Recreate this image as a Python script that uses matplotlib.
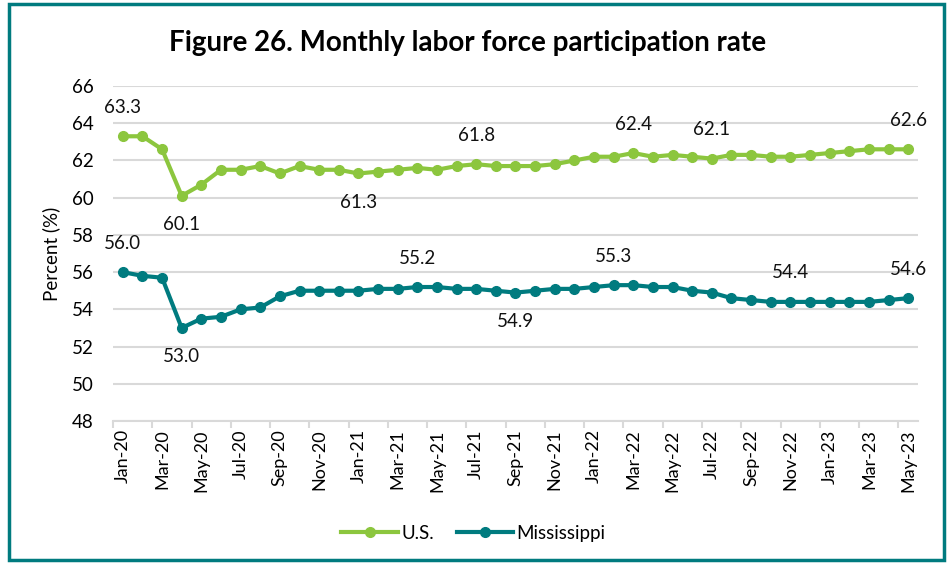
import matplotlib.pyplot as plt
from matplotlib.patches import Rectangle

months = ["Jan-20", "Feb-20", "Mar-20", "Apr-20", "May-20", "Jun-20", "Jul-20",
          "Aug-20", "Sep-20", "Oct-20", "Nov-20", "Dec-20",
          "Jan-21", "Feb-21", "Mar-21", "Apr-21", "May-21", "Jun-21", "Jul-21",
          "Aug-21", "Sep-21", "Oct-21", "Nov-21", "Dec-21",
          "Jan-22", "Feb-22", "Mar-22", "Apr-22", "May-22", "Jun-22", "Jul-22",
          "Aug-22", "Sep-22", "Oct-22", "Nov-22", "Dec-22",
          "Jan-23", "Feb-23", "Mar-23", "Apr-23", "May-23"]

us = [63.3, 63.3, 62.6, 60.1, 60.7, 61.5, 61.5, 61.7, 61.3, 61.7, 61.5, 61.5,
      61.3, 61.4, 61.5, 61.6, 61.5, 61.7, 61.8, 61.7, 61.7, 61.7, 61.8, 62.0,
      62.2, 62.2, 62.4, 62.2, 62.3, 62.2, 62.1, 62.3, 62.3, 62.2, 62.2, 62.3,
      62.4, 62.5, 62.6, 62.6, 62.6]

ms = [56.0, 55.8, 55.7, 53.0, 53.5, 53.6, 54.0, 54.1, 54.7, 55.0, 55.0, 55.0,
      55.0, 55.1, 55.1, 55.2, 55.2, 55.1, 55.1, 55.0, 54.9, 55.0, 55.1, 55.1,
      55.2, 55.3, 55.3, 55.2, 55.2, 55.0, 54.9, 54.6, 54.5, 54.4, 54.4, 54.4,
      54.4, 54.4, 54.4, 54.5, 54.6]

# which points get a value label, and whether it sits above (+1) or below (-1)
us_labels = {0: 1, 3: -1, 12: -1, 18: 1, 26: 1, 30: 1, 40: 1}
ms_labels = {0: 1, 3: -1, 15: 1, 20: -1, 25: 1, 34: 1, 40: 1}

GREEN = "#8CC63E"
TEAL = "#007B7F"
GRID = "#D9D9D9"

plt.rcParams["font.family"] = ["Lato", "DejaVu Sans"]

fig = plt.figure(figsize=(9.47, 5.63), dpi=100)
ax = fig.add_axes([0.1193, 0.2522, 0.8501, 0.595])

x = list(range(len(months)))
ax.plot(x, us, color=GREEN, lw=3, marker="o", ms=7, label="U.S.")
ax.plot(x, ms, color=TEAL, lw=3, marker="o", ms=7, label="Mississippi")

for series, labels in ((us, us_labels), (ms, ms_labels)):
    for i, side in labels.items():
        ax.annotate(f"{series[i]:.1f}", (i, series[i]),
                    xytext=(0, 29 * side), textcoords="offset pixels",
                    ha="center", va="center", fontsize=13.5, color="#111111")

ax.set_ylim(48, 66)
ax.set_yticks(range(48, 67, 2))
ax.set_xlim(-0.5, len(months) - 0.5)
ax.set_xticks(x[::2])
ax.set_xticklabels(months[::2], rotation=90)
ax.set_xticks([i - 0.5 for i in range(0, len(months), 2)], minor=True)
ax.tick_params(axis="x", which="major", length=0, pad=6, labelsize=13)
ax.tick_params(axis="x", which="minor", length=5, color=GRID, width=1.5)
ax.tick_params(axis="y", length=0, pad=14, labelsize=13.5)

ax.grid(axis="y", color=GRID, lw=1.5)
ax.set_axisbelow(True)
for side in ("top", "right", "left"):
    ax.spines[side].set_visible(False)
ax.spines["bottom"].set_color(GRID)
ax.spines["bottom"].set_linewidth(1.5)

ax.set_ylabel("Percent (%)", fontsize=13.5, labelpad=8)

fig.text(0.494, 0.924, "Figure 26. Monthly labor force participation rate",
         ha="center", va="center", fontsize=20, fontweight="bold")

fig.legend(loc="center", bbox_to_anchor=(0.5, 0.053), ncol=2, frameon=False,
           fontsize=13.5, handlelength=3, columnspacing=1.2, handletextpad=0.2)

# outer frame
fig.patches.append(Rectangle((0.01, 0.006), 0.987, 0.987, transform=fig.transFigure,
                             fill=False, edgecolor=TEAL, lw=2.5))

fig.savefig("out.png", dpi=100)
